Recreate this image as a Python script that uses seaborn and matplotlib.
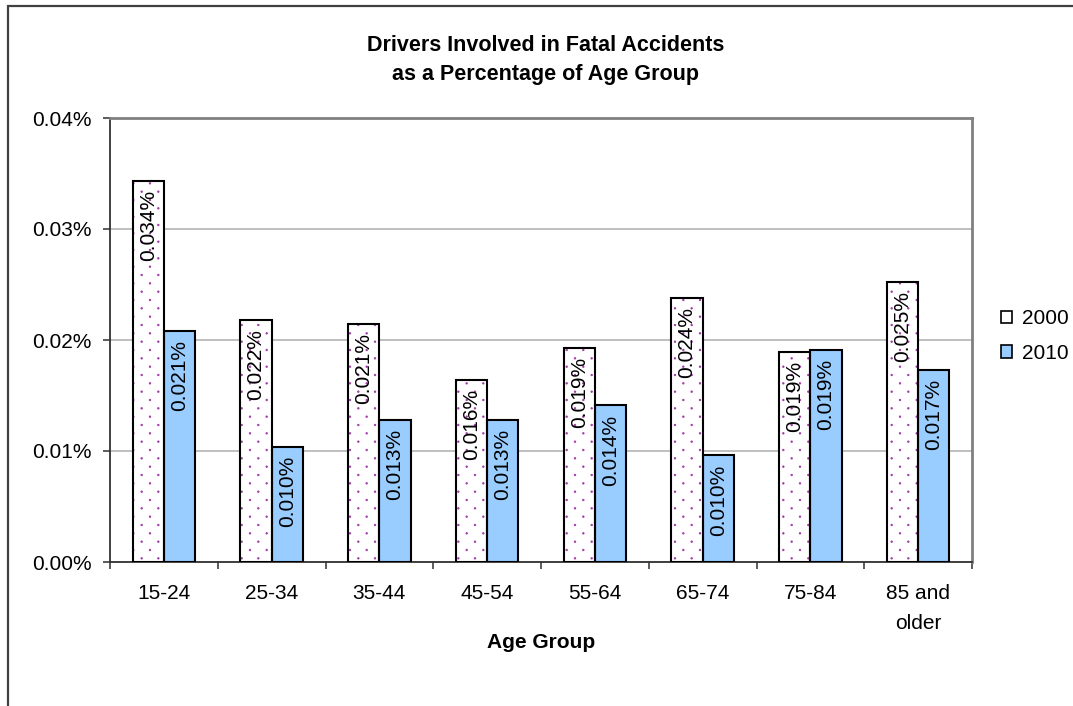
import numpy as np
import pandas as pd
import matplotlib
matplotlib.use("Agg")
import matplotlib.pyplot as plt
import matplotlib.hatch as mhatch
from matplotlib.path import Path
from matplotlib.patches import Rectangle, Patch
from matplotlib.legend_handler import HandlerTuple
from matplotlib.ticker import FuncFormatter, FixedLocator
import seaborn as sns

# ---- data -------------------------------------------------------------
age_groups = ["15-24", "25-34", "35-44", "45-54", "55-64", "65-74", "75-84",
              "85 and\nolder"]
years = ["2000", "2010"]
rate_2000 = [0.0343, 0.0218, 0.0214, 0.0164, 0.0193, 0.0238, 0.0189, 0.0252]
rate_2010 = [0.0208, 0.0104, 0.0128, 0.0128, 0.0141, 0.0096, 0.0191, 0.0173]

title = "Drivers Involved in Fatal Accidents\nas a Percentage of Age Group"
x_label = "Age Group"


# ---- staggered dot texture for the 2000 bars ---------------------------
class StaggeredDots(mhatch.HatchPatternBase):
    """Small filled dots on a staggered lattice, rows twice as dense as columns."""

    def __init__(self, hatch, density):
        n = hatch.count(".")
        circle = Path.unit_circle()
        self.shape_vertices = circle.vertices
        self.shape_codes = circle.codes
        if n == 0:
            self.num_vertices = 0
            self.centers = []
            return
        n_cols = 6 * n
        n_rows = 2 * n_cols
        centers = []
        for r in range(n_rows + 1):
            y = r / n_rows
            if r % 2 == 0:
                xs = np.linspace(0, 1, n_cols + 1)
            else:
                xs = np.linspace(0.5 / n_cols, 1 - 0.5 / n_cols, n_cols)
            centers.extend((x, y) for x in xs)
        self.centers = centers
        self.radius = 0.0075
        self.num_vertices = len(centers) * len(self.shape_vertices)

    def set_vertices_and_codes(self, vertices, codes):
        sv = self.shape_vertices * self.radius
        vparts = [sv + c for c in self.centers]
        cparts = [self.shape_codes for _ in self.centers]
        np.concatenate(vparts, out=vertices)
        np.concatenate(cparts, out=codes)


if hasattr(mhatch, "_hatch_types"):
    mhatch._hatch_types = [
        StaggeredDots if t is mhatch.SmallFilledCircles else t
        for t in mhatch._hatch_types
    ]

# ---- style ------------------------------------------------------------
sns.set_theme(style="white")
plt.rcParams["font.family"] = ["Liberation Sans", "DejaVu Sans"]
plt.rcParams["hatch.linewidth"] = 0.6
for key in ("text.color", "axes.labelcolor", "xtick.color", "ytick.color"):
    plt.rcParams[key] = "black"

FS = 15
DOT_COLOR = "#a23aa8"
BLUE = "#99ccff"

df = pd.DataFrame({
    "Age Group": age_groups * 2,
    "Year": [years[0]] * len(age_groups) + [years[1]] * len(age_groups),
    "Rate": rate_2000 + rate_2010,
})

W, H = 1073, 706
fig = plt.figure(figsize=(W / 100, H / 100), dpi=100)
fig.patch.set_facecolor("white")
ax = fig.add_axes([110 / W, 1 - 562 / H, (972 - 110) / W, (562 - 118) / H])

sns.barplot(data=df, x="Age Group", y="Rate", hue="Year", order=age_groups,
            hue_order=years, palette={"2000": "white", "2010": BLUE},
            saturation=1, width=0.58, errorbar=None, edgecolor="black",
            linewidth=1.5, legend=False, ax=ax, zorder=3)

# dotted fill for the 2000 bars, with a black outline drawn on top
for rect in ax.containers[0]:
    rect.set_facecolor("white")
    rect.set_edgecolor(DOT_COLOR)
    rect.set_linewidth(0)
    rect.set_hatch(".")
    ax.add_patch(Rectangle(rect.get_xy(), rect.get_width(), rect.get_height(),
                           fill=False, edgecolor="black", linewidth=1.5,
                           zorder=4))

# value labels inside each bar, just below its top
for cont in ax.containers:
    for rect in cont:
        h = rect.get_height()
        ax.annotate(f"{h:.3f}%", (rect.get_x() + rect.get_width() / 2, h),
                    xytext=(0, -6.5), textcoords="offset points",
                    rotation=90, ha="center", va="top", fontsize=FS,
                    color="black", zorder=6)

# axes
ax.set_xlim(-0.5, len(age_groups) - 0.5)
ax.set_ylim(0, 0.04)
ax.yaxis.set_major_locator(FixedLocator([0, 0.01, 0.02, 0.03, 0.04]))
ax.yaxis.set_major_formatter(FuncFormatter(lambda v, p: f"{v:.2f}%"))
ax.yaxis.grid(True, color="#b4b4b4", linewidth=1.2, zorder=0)
ax.set_axisbelow(True)

ax.set_xlabel(x_label, fontsize=FS, fontweight="bold", labelpad=0)
ax.set_ylabel("")
ax.set_xticks(range(len(age_groups)))
ax.set_xticklabels(age_groups, fontsize=FS, linespacing=1.75)
ax.set_xticks(np.arange(-0.5, len(age_groups)), minor=True)
ax.tick_params(axis="x", which="major", length=0, pad=16)
ax.tick_params(axis="x", which="minor", length=5, width=1.2, color="#404040",
               direction="out", bottom=True)
ax.tick_params(axis="y", which="major", length=5, width=1.2, color="#404040",
               direction="out", left=True, pad=8, labelsize=FS)

for side in ("left", "bottom"):
    ax.spines[side].set_color("#333333")
    ax.spines[side].set_linewidth(1.3)
for side in ("top", "right"):
    ax.spines[side].set_visible(True)
    ax.spines[side].set_color("#808080")
    ax.spines[side].set_linewidth(2)

# legend
h2000 = (Patch(facecolor="white", edgecolor=DOT_COLOR, linewidth=0, hatch="."),
         Patch(facecolor="none", edgecolor="black", linewidth=1.2))
h2010 = Patch(facecolor=BLUE, edgecolor="black", linewidth=1.2)
fig.legend([h2000, h2010], years, loc="center left",
           bbox_to_anchor=(1001 / W, 1 - 336 / H), frameon=False, fontsize=FS,
           handlelength=0.55, handleheight=0.55, handletextpad=0.45,
           labelspacing=0.75, borderaxespad=0, borderpad=0,
           handler_map={tuple: HandlerTuple(ndivide=1, pad=0)})

# title
fig.text(546 / W, 1 - 60 / H, title, ha="center", va="center", fontsize=15.5,
         fontweight="bold", linespacing=1.55)

# chart border
fig.add_artist(Rectangle((8 / W, -0.1), 1.2, 1.1 - 6 / H,
                         transform=fig.transFigure, fill=False,
                         edgecolor="#404040", linewidth=1.6, clip_on=False))

fig.savefig("out.png", dpi=100, facecolor="white")
